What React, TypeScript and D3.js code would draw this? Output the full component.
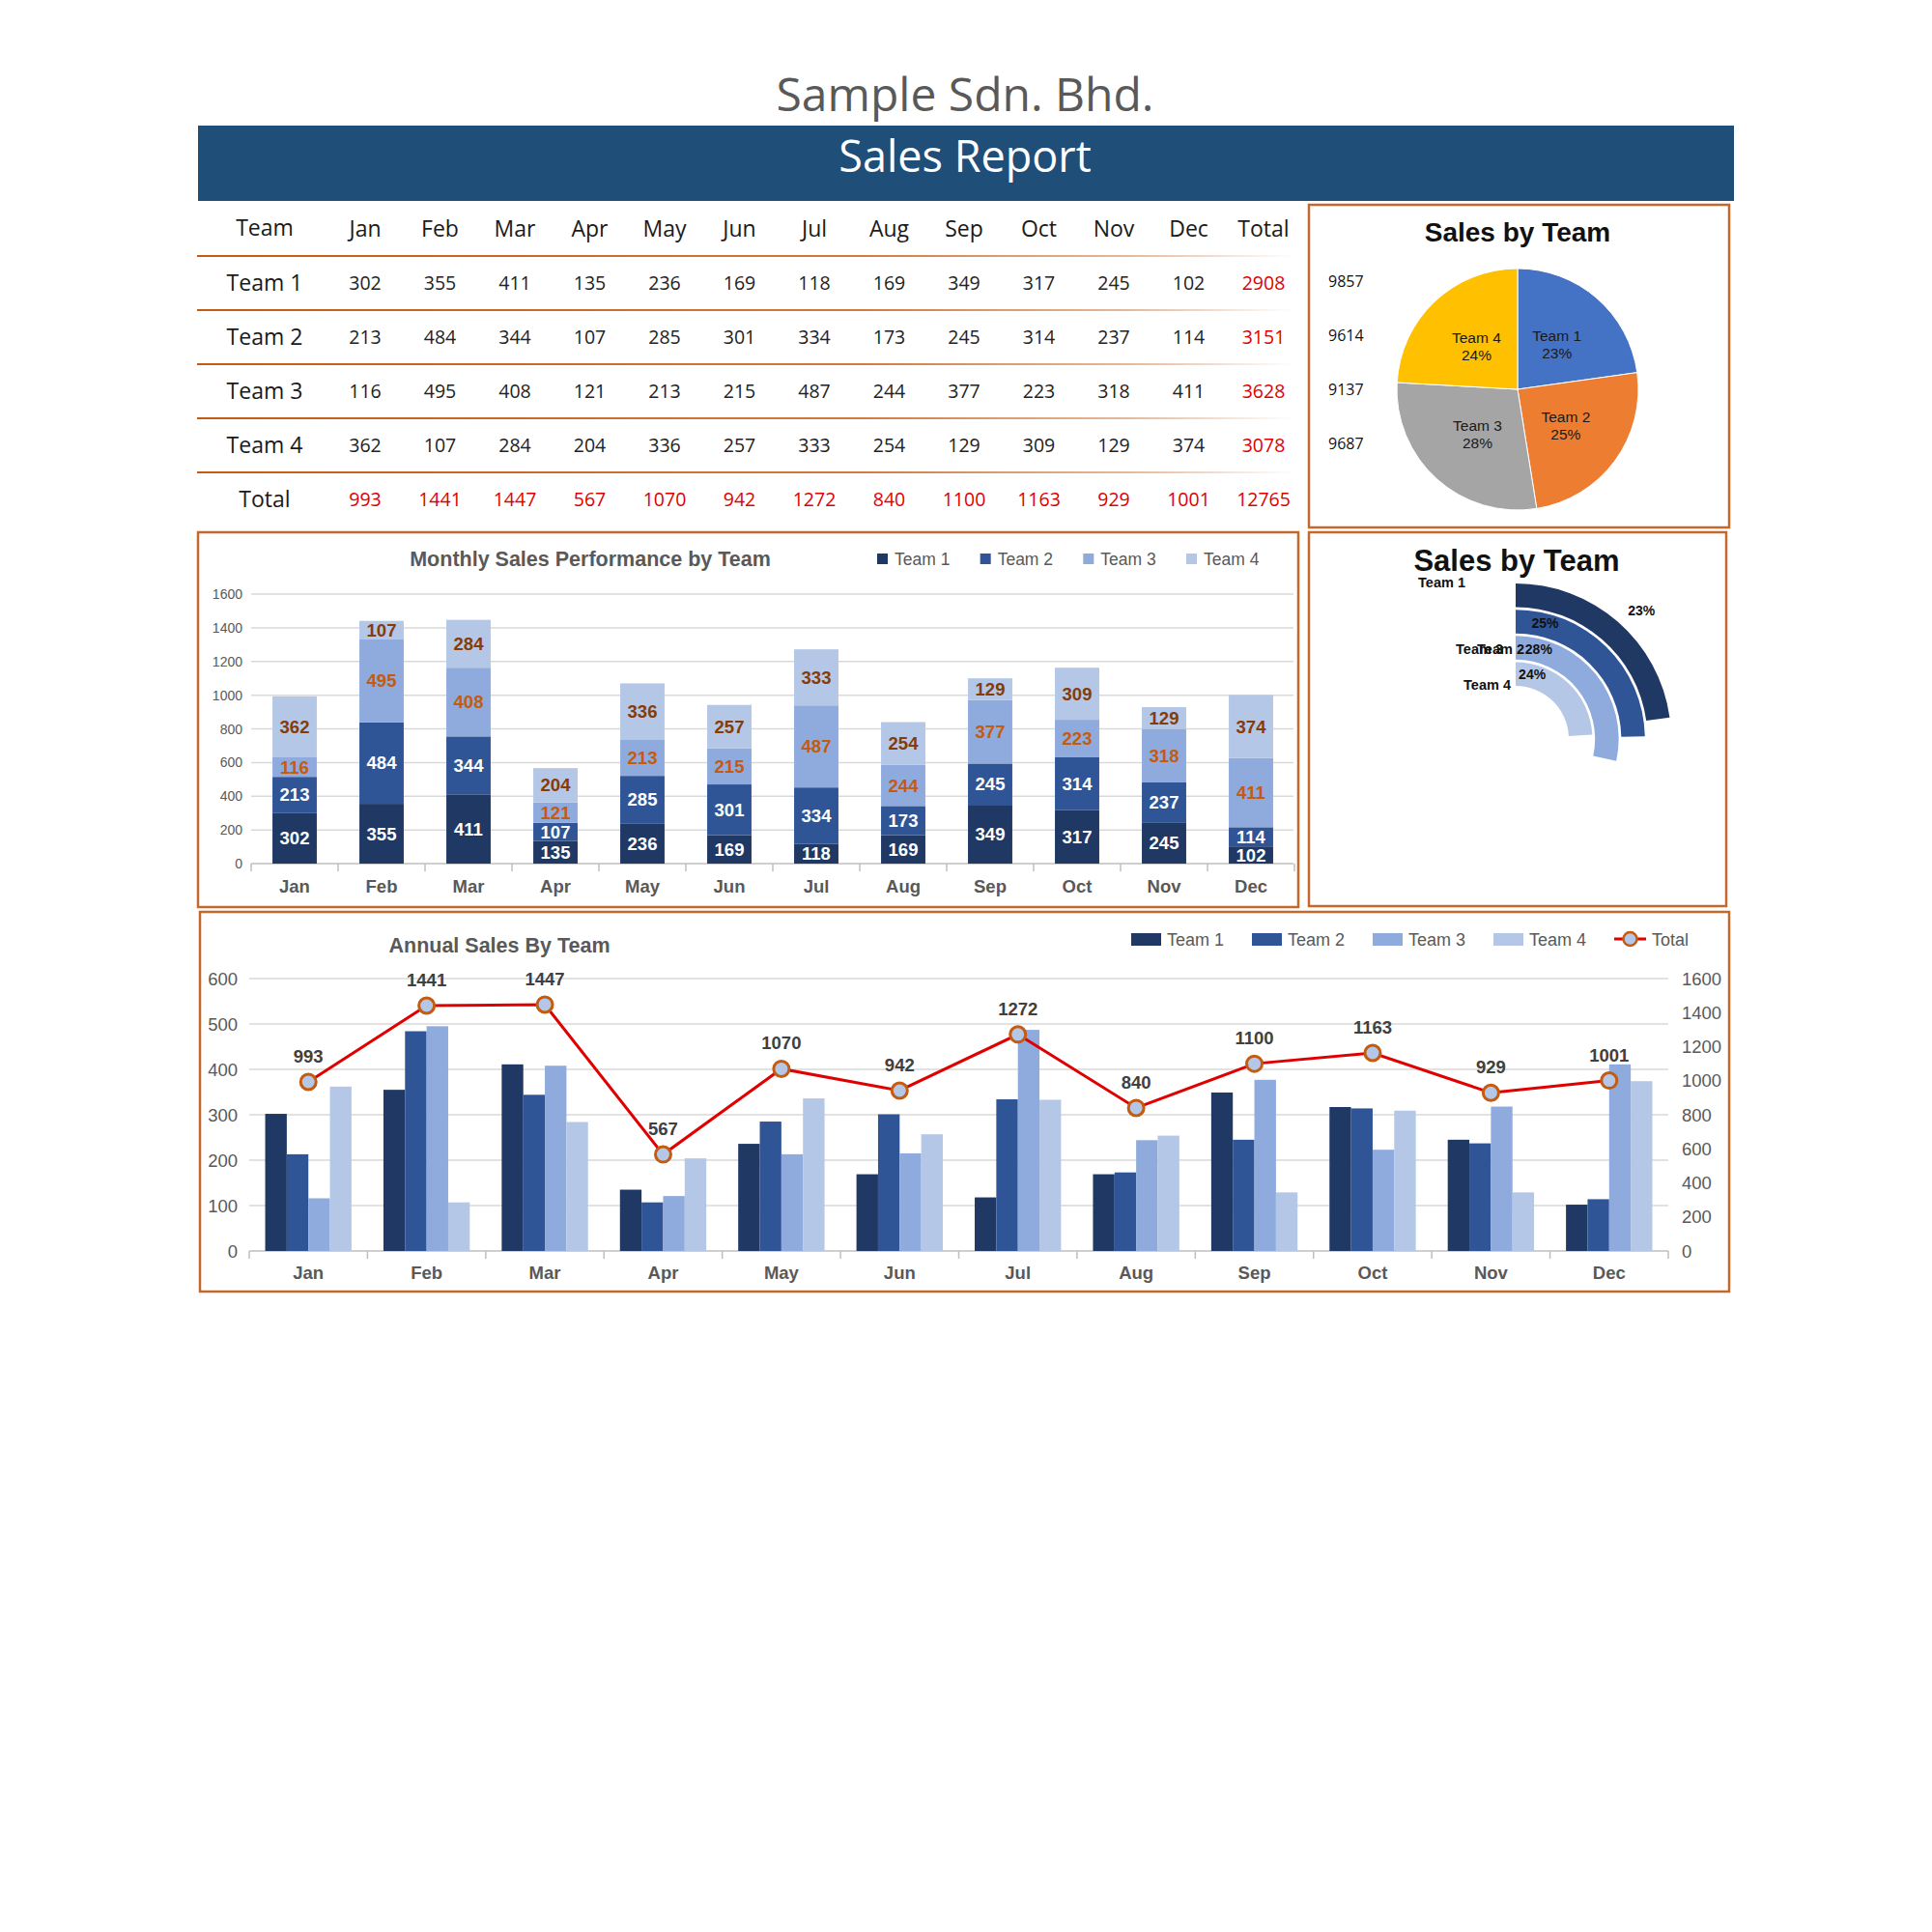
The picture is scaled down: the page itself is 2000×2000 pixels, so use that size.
import * as d3 from 'd3';

const months = ['Jan', 'Feb', 'Mar', 'Apr', 'May', 'Jun', 'Jul', 'Aug', 'Sep', 'Oct', 'Nov', 'Dec'];
const teams = ['Team 1', 'Team 2', 'Team 3', 'Team 4'];
const team1 = [302, 355, 411, 135, 236, 169, 118, 169, 349, 317, 245, 102];
const team2 = [213, 484, 344, 107, 285, 301, 334, 173, 245, 314, 237, 114];
const team3 = [116, 495, 408, 121, 213, 215, 487, 244, 377, 223, 318, 411];
const team4 = [362, 107, 284, 204, 336, 257, 333, 254, 129, 309, 129, 374];
const monthTotals = [993, 1441, 1447, 567, 1070, 942, 1272, 840, 1100, 1163, 929, 1001];
const teamTotals = [2908, 3151, 3628, 3078];
const grandTotal = 12765;
const sideNumbers = ['9857', '9614', '9137', '9687'];
const monthlyTicks = [0, 200, 400, 600, 800, 1000, 1200, 1400, 1600];
const annualLeftTicks = [0, 100, 200, 300, 400, 500, 600];
const annualRightTicks = [0, 200, 400, 600, 800, 1000, 1200, 1400, 1600];

const series = [team1, team2, team3, team4];

const CHART_FONT = "'Liberation Sans', Arial, sans-serif";
const TABLE_FONT = "'Open Sans', sans-serif";
const teamColors = ['#203864', '#2F5597', '#8FAADC', '#B4C7E7'];
const pieColors = ['#4472C4', '#ED7D31', '#A5A5A5', '#FFC000'];
const barLabelColors = ['#ffffff', '#ffffff', '#C55A11', '#843C0C'];
const boxColor = '#C4692C';
const grey = '#595959';
const gridColor = '#D9D9D9';

const pct = (v: number) => Math.round((v / grandTotal) * 100) + '%';

function Header() {
  return (
    <g>
      <text x={999} y={115} textAnchor="middle" fontFamily={TABLE_FONT} fontSize={48} fill={grey}>
        Sample Sdn. Bhd.
      </text>
      <rect x={205} y={130} width={1590} height={78} fill="#1F4E79" />
      <text x={999} y={178} textAnchor="middle" fontFamily={TABLE_FONT} fontSize={45} fill="#ffffff">
        Sales Report
      </text>
    </g>
  );
}

function Table() {
  const cols = [...months, 'Total'];
  const x = d3.scalePoint<string>().domain(cols).range([378, 1308]);
  const y = d3.scalePoint<string>().domain(['header', ...teams, 'Total']).range([237, 517]);
  const rowStep = y.step();
  return (
    <g fontFamily={TABLE_FONT}>
      <defs>
        <linearGradient id="rowline" gradientUnits="userSpaceOnUse" x1={204} x2={1340} y1={0} y2={0}>
          <stop offset="0" stopColor="#C55A11" />
          <stop offset="0.6" stopColor="#D07A3E" />
          <stop offset="0.85" stopColor="#E3B99A" />
          <stop offset="1" stopColor="#ffffff" />
        </linearGradient>
      </defs>
      <text x={274} y={(y('header') as number) + 7} textAnchor="middle" fontSize={23} fill="#1a1a1a">Team</text>
      {cols.map((c) => (
        <text key={c} x={x(c)} y={(y('header') as number) + 8} textAnchor="middle" fontSize={23} fill="#1a1a1a">
          {c}
        </text>
      ))}
      {['header', ...teams].map((r) => (
        <line key={r} x1={204} x2={1340} y1={(y(r) as number) + rowStep / 2} y2={(y(r) as number) + rowStep / 2}
          stroke="url(#rowline)" strokeWidth={2} />
      ))}
      {teams.map((t, i) => (
        <g key={t}>
          <text x={274} y={(y(t) as number) + 8} textAnchor="middle" fontSize={23} fill="#1a1a1a">{t}</text>
          {months.map((m, j) => (
            <text key={m} x={x(m)} y={(y(t) as number) + 7} textAnchor="middle" fontSize={19.5} fill="#222">
              {series[i][j]}
            </text>
          ))}
          <text x={x('Total')} y={(y(t) as number) + 7} textAnchor="middle" fontSize={19.5} fill="#E00000">
            {teamTotals[i]}
          </text>
        </g>
      ))}
      <text x={274} y={(y('Total') as number) + 8} textAnchor="middle" fontSize={23} fill="#1a1a1a">Total</text>
      {months.map((m, j) => (
        <text key={m} x={x(m)} y={(y('Total') as number) + 7} textAnchor="middle" fontSize={19.5} fill="#E00000">
          {monthTotals[j]}
        </text>
      ))}
      <text x={x('Total')} y={(y('Total') as number) + 7} textAnchor="middle" fontSize={19.5} fill="#E00000">
        {grandTotal}
      </text>
    </g>
  );
}

function PieBox() {
  const cx = 1571;
  const cy = 403;
  const r = 125;
  const pie = d3.pie<number>().sort(null).startAngle(0).endAngle(2 * Math.PI);
  const arcs = pie(teamTotals);
  const arc = d3.arc<d3.PieArcDatum<number>>().innerRadius(0).outerRadius(r);
  const labelArc = d3.arc<d3.PieArcDatum<number>>().innerRadius(62).outerRadius(62);
  const sideY = d3.scalePoint<string>().domain(sideNumbers).range([291, 459]);
  return (
    <g fontFamily={CHART_FONT}>
      <rect x={1355} y={212} width={435} height={334} fill="#fff" stroke={boxColor} strokeWidth={2.5} />
      <text x={1571} y={250} textAnchor="middle" fontSize={28} fontWeight="bold" fill="#111">Sales by Team</text>
      {sideNumbers.map((n) => (
        <text key={n} x={1375} y={(sideY(n) as number) + 6} fontFamily={TABLE_FONT} fontSize={16} fill="#111">{n}</text>
      ))}
      <g transform={`translate(${cx},${cy})`}>
        {arcs.map((a, i) => (
          <path key={i} d={arc(a) as string} fill={pieColors[i]} stroke="#fff" strokeWidth={1} />
        ))}
        {arcs.map((a, i) => {
          const [lx, ly] = labelArc.centroid(a);
          return (
            <text key={i} x={lx} y={ly} textAnchor="middle" fontSize={15.5} fill="#1a1a1a">
              <tspan x={lx} dy={-3}>{teams[i]}</tspan>
              <tspan x={lx} dy={18}>{pct(teamTotals[i])}</tspan>
            </text>
          );
        })}
      </g>
    </g>
  );
}

function RadialBox() {
  const cx = 1569;
  const cy = 765;
  const rBand = d3.scaleBand<string>().domain([...teams].reverse()).range([55, 161]).paddingInner(0.1);
  const angle = d3.scaleLinear().domain([0, grandTotal]).range([0, 2 * Math.PI]);
  const arc = d3.arc<any>();
  return (
    <g fontFamily={CHART_FONT}>
      <rect x={1355} y={551} width={432} height={387} fill="#fff" stroke={boxColor} strokeWidth={2.5} />
      <text x={1570} y={591} textAnchor="middle" fontSize={31} fontWeight="bold" fill="#111">Sales by Team</text>
      <g transform={`translate(${cx},${cy})`}>
        {teams.map((t, i) => (
          <path key={t}
            d={arc({
              innerRadius: rBand(t) as number,
              outerRadius: (rBand(t) as number) + rBand.bandwidth(),
              startAngle: 0,
              endAngle: angle(teamTotals[i]),
            }) as string}
            fill={teamColors[i]} />
        ))}
        {teams.map((t, i) => {
          const rr = i === 0 ? (rBand(t) as number) + rBand.bandwidth() + 25 : (rBand(t) as number) + rBand.bandwidth() / 2 + 2;
          const a = i === 0 ? angle(teamTotals[i]) / 2 + 0.06 : 0.25;
          return (
            <text key={t} x={rr * Math.sin(a)} y={-rr * Math.cos(a) + 5} textAnchor="middle" fontSize={14} fontWeight="bold" fill="#111">
              {pct(teamTotals[i])}
            </text>
          );
        })}
      </g>
      <text x={1517} y={608} textAnchor="end" fontSize={14.5} fontWeight="bold" fill="#111">Team 1</text>
      <text x={1578} y={677} textAnchor="end" fontSize={14.5} fontWeight="bold" fill="#111">Team 2</text>
      <text x={1556} y={677} textAnchor="end" fontSize={14.5} fontWeight="bold" fill="#111">Team 3</text>
      <text x={1564} y={714} textAnchor="end" fontSize={14.5} fontWeight="bold" fill="#111">Team 4</text>
    </g>
  );
}

function MonthlyChart() {
  const x = d3.scaleBand<string>().domain(months).range([260, 1340]).paddingInner(0.49).paddingOuter(0.245);
  const y = d3.scaleLinear().domain([0, 1600]).range([894, 615]);
  const rows = months.map((m, j) => ({ month: m, t0: team1[j], t1: team2[j], t2: team3[j], t3: team4[j] }));
  const stacked = d3.stack<any>().keys(['t0', 't1', 't2', 't3'])(rows);
  const step = x.step();
  const legendX = d3.scalePoint<string>().domain(teams).range([908, 1228]);
  return (
    <g fontFamily={CHART_FONT}>
      <rect x={205} y={551} width={1139} height={388} fill="#fff" stroke={boxColor} strokeWidth={2.5} />
      <text x={611} y={586} textAnchor="middle" fontSize={21.5} fontWeight="bold" fill={grey}>
        Monthly Sales Performance by Team
      </text>
      {teams.map((t, i) => (
        <g key={t}>
          <rect x={legendX(t)} y={573} width={11} height={11} fill={teamColors[i]} />
          <text x={(legendX(t) as number) + 18} y={585} fontSize={17.5} fill={grey}>{t}</text>
        </g>
      ))}
      {monthlyTicks.map((v) => (
        <g key={v}>
          <line x1={260} x2={1339} y1={y(v)} y2={y(v)} stroke={v === 0 ? '#BFBFBF' : gridColor} strokeWidth={1.5} />
          <text x={251} y={y(v) + 5} textAnchor="end" fontSize={14} fill={grey}>{v}</text>
        </g>
      ))}
      {d3.range(months.length + 1).map((i) => (
        <line key={i} x1={260 + i * step} x2={260 + i * step} y1={894} y2={902} stroke="#BFBFBF" strokeWidth={1.5} />
      ))}
      {stacked.map((s, i) => (
        <g key={i}>
          {s.map((d: any) => (
            <rect key={d.data.month} x={x(d.data.month)} y={y(d[1])} width={x.bandwidth()} height={y(d[0]) - y(d[1])}
              fill={teamColors[i]} />
          ))}
          {s.map((d: any) => (
            <text key={d.data.month} x={(x(d.data.month) as number) + x.bandwidth() / 2} y={y((d[0] + d[1]) / 2) + 6.5}
              textAnchor="middle" fontSize={18.5} fontWeight="bold" fill={barLabelColors[i]}>
              {d[1] - d[0]}
            </text>
          ))}
        </g>
      ))}
      {months.map((m) => (
        <text key={m} x={(x(m) as number) + x.bandwidth() / 2} y={924} textAnchor="middle" fontSize={18.5} fontWeight="bold" fill={grey}>
          {m}
        </text>
      ))}
    </g>
  );
}

function AnnualChart() {
  const x0 = d3.scaleBand<string>().domain(months).range([258, 1727]).paddingInner(0.27).paddingOuter(0.135);
  const x1 = d3.scaleBand<string>().domain(teams).range([0, x0.bandwidth()]);
  const yL = d3.scaleLinear().domain([0, 600]).range([1295, 1013]);
  const yR = d3.scaleLinear().domain([0, 1600]).range([1295, 1013]);
  const step = x0.step();
  const cxOf = (m: string) => (x0(m) as number) + x0.bandwidth() / 2;
  const line = d3.line<number>().x((_, j) => cxOf(months[j])).y((v) => yR(v));
  const legendSwatch = d3.scalePoint<string>().domain([...teams, 'Total']).range([1171, 1671]);
  return (
    <g fontFamily={CHART_FONT}>
      <rect x={207} y={944} width={1583} height={393} fill="#fff" stroke={boxColor} strokeWidth={2.5} />
      <text x={517} y={986} textAnchor="middle" fontSize={21.5} fontWeight="bold" fill={grey}>Annual Sales By Team</text>
      {teams.map((t, i) => (
        <g key={t}>
          <rect x={legendSwatch(t)} y={966} width={31} height={13} fill={teamColors[i]} />
          <text x={(legendSwatch(t) as number) + 37} y={979} fontSize={18} fill={grey}>{t}</text>
        </g>
      ))}
      <line x1={legendSwatch('Total')} x2={(legendSwatch('Total') as number) + 33} y1={972} y2={972} stroke="#E00000" strokeWidth={3} />
      <circle cx={(legendSwatch('Total') as number) + 16.5} cy={972} r={7} fill="#B4C7E7" stroke="#C55A11" strokeWidth={2.5} />
      <text x={(legendSwatch('Total') as number) + 39} y={979} fontSize={18} fill={grey}>Total</text>

      {annualLeftTicks.map((v) => (
        <g key={v}>
          <line x1={258} x2={1727} y1={yL(v)} y2={yL(v)} stroke={v === 0 ? '#BFBFBF' : gridColor} strokeWidth={1.5} />
          <text x={246} y={yL(v) + 6.5} textAnchor="end" fontSize={18.5} fill={grey}>{v}</text>
        </g>
      ))}
      {annualRightTicks.map((v) => (
        <text key={v} x={1741} y={yR(v) + 6.5} fontSize={18.5} fill={grey}>{v}</text>
      ))}
      {d3.range(months.length + 1).map((i) => (
        <line key={i} x1={258 + i * step} x2={258 + i * step} y1={1295} y2={1303} stroke="#BFBFBF" strokeWidth={1.5} />
      ))}
      {months.map((m, j) => (
        <g key={m} transform={`translate(${x0(m)},0)`}>
          {teams.map((t, i) => (
            <rect key={t} x={x1(t)} y={yL(series[i][j])} width={x1.bandwidth()} height={yL(0) - yL(series[i][j])} fill={teamColors[i]} />
          ))}
        </g>
      ))}
      <path d={line(monthTotals) as string} fill="none" stroke="#E00000" strokeWidth={3} />
      {monthTotals.map((v, j) => (
        <g key={j}>
          <circle cx={cxOf(months[j])} cy={yR(v)} r={8} fill="#B4C7E7" stroke="#C55A11" strokeWidth={3} />
          <text x={cxOf(months[j])} y={yR(v) - 20} textAnchor="middle" fontSize={18.5} fontWeight="bold" fill="#404040">{v}</text>
        </g>
      ))}
      {months.map((m) => (
        <text key={m} x={cxOf(m)} y={1324} textAnchor="middle" fontSize={18.5} fontWeight="bold" fill={grey}>{m}</text>
      ))}
    </g>
  );
}

export default function App() {
  return (
    <svg width={2000} height={2000} viewBox="0 0 2000 2000"
      style={{ position: 'absolute', left: 0, top: 0, background: '#fff' }}>
      <rect width={2000} height={2000} fill="#fff" />
      <Header />
      <Table />
      <PieBox />
      <RadialBox />
      <MonthlyChart />
      <AnnualChart />
    </svg>
  );
}
